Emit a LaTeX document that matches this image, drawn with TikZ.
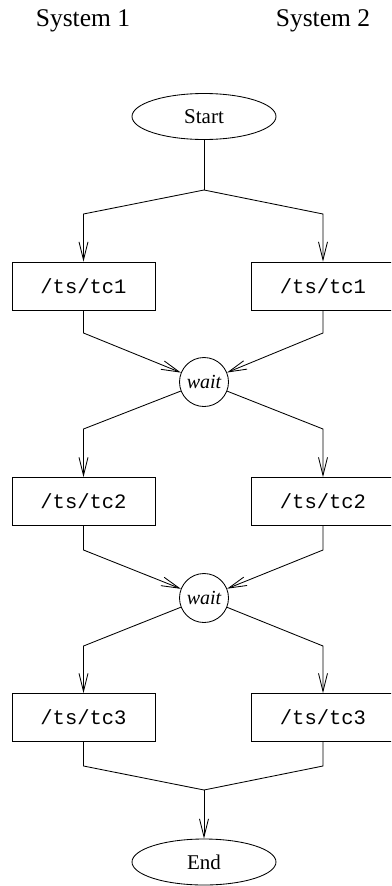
\documentclass[tikz,border=0pt]{standalone}
\usepackage{fontspec}
\setmainfont{Liberation Serif}
\setmonofont{Liberation Mono}
\usetikzlibrary{shapes.geometric,arrows.meta}
\tikzset{
  lw/.style={line width=0.85pt},
  term/.style={ellipse,draw,lw,minimum width=144pt,minimum height=46pt,inner sep=0pt,font=\fontsize{21}{25}\selectfont},
  task/.style={rectangle,draw,lw,minimum width=143pt,minimum height=48pt,inner sep=0pt,font=\fontsize{20.5}{24}\selectfont\ttfamily},
  sync/.style={circle,draw,lw,minimum size=49pt,inner sep=0pt,font=\fontsize{20}{24}\selectfont\itshape},
  title/.style={font=\fontsize{25.5}{30}\selectfont,anchor=base},
  arr/.style={lw,-{Straight Barb[length=18pt,width=9pt,line width=0.85pt]}},
  con/.style={lw}
}
\begin{document}
\begin{tikzpicture}[x=1pt,y=-1pt]
\clip (0,0) rectangle (391,886);
\node[title] (s1) at (83,27) {System 1};
\node[title] (s2) at (323,27) {System 2};

\node[term] (start) at (204,116.5) {Start};
\coordinate (j0) at (204,190);
\coordinate (a1) at (83.5,214);
\coordinate (a2) at (323,214);
\node[task] (b1l) at (83.5,286) {/ts/tc1};
\node[task] (b1r) at (323,286) {/ts/tc1};
\coordinate (c1l) at (83.5,333);
\coordinate (c1r) at (323,333);
\node[sync] (w1) at (204,382) {wait};
\coordinate (d1l) at (83.5,429);
\coordinate (d1r) at (323,429);
\node[task] (b2l) at (83.5,501.5) {/ts/tc2};
\node[task] (b2r) at (323,501.5) {/ts/tc2};
\coordinate (c2l) at (83.5,550);
\coordinate (c2r) at (323,550);
\node[sync] (w2) at (204,598) {wait};
\coordinate (d2l) at (83.5,646);
\coordinate (d2r) at (323,646);
\node[task] (b3l) at (83.5,717.5) {/ts/tc3};
\node[task] (b3r) at (323,717.5) {/ts/tc3};
\coordinate (c3l) at (83.5,766);
\coordinate (c3r) at (323,766);
\coordinate (j1) at (204,790);
\node[term] (end) at (204,862) {End};

\draw[con] (start) -- (j0);
\draw[arr] (j0) -- (a1) -- (b1l.north);
\draw[arr] (j0) -- (a2) -- (b1r.north);
\draw[arr] (b1l.south) -- (c1l) -- (w1);
\draw[arr] (b1r.south) -- (c1r) -- (w1);
\draw[arr] (w1) -- (d1l) -- (b2l.north);
\draw[arr] (w1) -- (d1r) -- (b2r.north);
\draw[arr] (b2l.south) -- (c2l) -- (w2);
\draw[arr] (b2r.south) -- (c2r) -- (w2);
\draw[arr] (w2) -- (d2l) -- (b3l.north);
\draw[arr] (w2) -- (d2r) -- (b3r.north);
\draw[con] (b3l.south) -- (c3l) -- (j1);
\draw[con] (b3r.south) -- (c3r) -- (j1);
\draw[arr] (j1) -- (end);
\end{tikzpicture}
\end{document}
